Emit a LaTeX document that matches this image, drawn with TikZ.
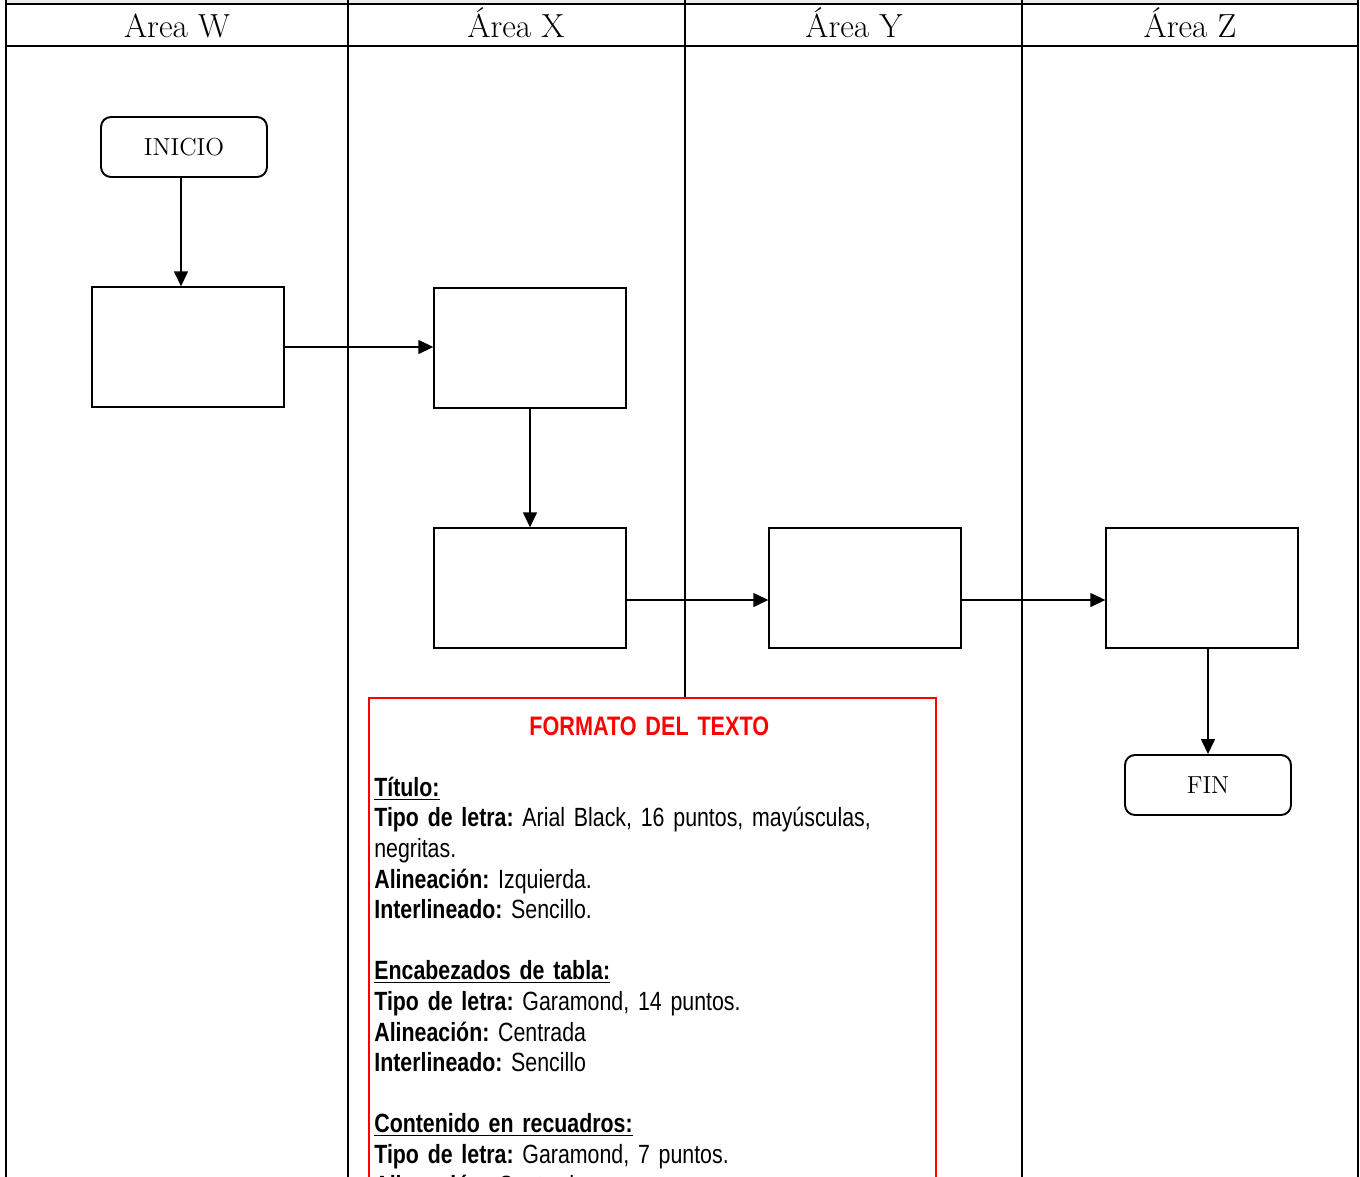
\documentclass[tikz,border=0pt]{standalone}
\usepackage{fontspec}
\newfontfamily\narrowfont[FakeStretch=0.81]{Liberation Sans}
\newcommand\notefont{\narrowfont\fontsize{15}{17.42}\selectfont\frenchspacing\spaceskip=3.1pt plus 1pt minus 1pt\relax}
\usetikzlibrary{arrows.meta}
\tikzset{
lane/.style={line width=1.1pt},
header/.style={font=\fontsize{19}{22}\selectfont,anchor=base},
procbox/.style={draw,line width=.8pt,minimum width=3.84cm,minimum height=2.4cm,inner sep=0pt},
terminal/.style={draw,line width=1.1pt,rounded corners=.2cm,minimum width=3.32cm,minimum height=1.2cm,font=\fontsize{14}{16}\selectfont},
arr/.style={-{Triangle[length=3mm,width=2.8mm]},line width=.8pt},
notebox/.style={draw=red,fill=white,line width=.8pt},
}
\tikzstyle{every node}=[inner sep=0pt]

\begin{document}
\begin{tikzpicture}[x=0.02cm,y=-0.02cm]
        \useasboundingbox (0,0) rectangle (1360,1177);
        \clip (0,0) rectangle (1360,1177);

        % table of the areas
        \fill[gray!15] (6,0) rectangle (1358,4);
        \draw[lane] (6,4) -- (1358,4);
        \draw[lane] (6,46) -- (1358,46);
        \foreach \x in {6,348,685,1022,1358}
            \draw[lane] (\x,0) -- (\x,1190);
        \foreach \x/\t/\n in {177/Area W/hw,516/Área X/hx,854/Área Y/hy,1190/Área Z/hz}
            \node[header] (\n) at (\x,37) {\t};

        % flow
        \node[terminal] (inicio) at (184,147) {INICIO};
        \node[procbox] (b1) at (188,347) {};
        \node[procbox] (b2) at (530,348) {};
        \node[procbox] (b3) at (530,588) {};
        \node[procbox] (b4) at (865,588) {};
        \node[procbox] (b5) at (1202,588) {};
        \node[terminal] (fin) at (1208,785) {FIN};

        \draw[arr] ([xshift=-.06cm]inicio.south) -- ([xshift=-.06cm]inicio.south |- b1.north);
        \draw[arr] (b1.east) -- (b1.east -| b2.west);
        \draw[arr] (b2.south) -- (b3.north);
        \draw[arr] ([yshift=-.24cm]b3.east) -- ([yshift=-.24cm]b4.west);
        \draw[arr] ([yshift=-.24cm]b4.east) -- ([yshift=-.24cm]b5.west);
        \draw[arr] (fin.north |- b5.south) -- (fin.north);

        % note on the text format
        \draw[notebox] (369,698) rectangle (936,1200);
        \node[anchor=north west,text width=11.1cm,align=left,font=\notefont] (formato) at (374,716) {%
            \makebox[11.1cm][c]{\hspace{-.1cm}\color{red}\fontsize{15.2}{17.42}\selectfont\textbf{FORMATO DEL TEXTO}}\\[17.42pt]
            \underline{\textbf{Título:}}\\
            \textbf{Tipo de letra:} Arial Black, 16 puntos, mayúsculas,\\
            negritas.\\
            \textbf{Alineación:} Izquierda.\\
            \textbf{Interlineado:} Sencillo.\\[17.42pt]
            \underline{\textbf{Encabezados de tabla:}}\\
            \textbf{Tipo de letra:} Garamond, 14 puntos.\\
            \textbf{Alineación:} Centrada\\
            \textbf{Interlineado:} Sencillo\\[17.42pt]
            \underline{\textbf{Contenido en recuadros:}}\\
            \textbf{Tipo de letra:} Garamond, 7 puntos.\\
            \textbf{Alineación:} Centrada};
    \end{tikzpicture}
\end{document}
